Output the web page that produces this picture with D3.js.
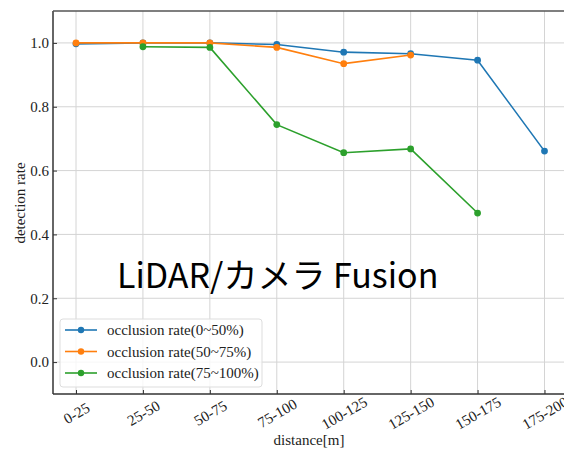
<!DOCTYPE html>
<html><head><meta charset="utf-8">
<script src="https://cdn.jsdelivr.net/npm/d3@7"></script>
<style>body{margin:0;background:#fff}svg{display:block}</style>
</head><body>
<script>
const categories = ["0-25","25-50","50-75","75-100","100-125","125-150","150-175","175-200"];
const seriesNames = ["occlusion rate(0~50%)","occlusion rate(50~75%)","occlusion rate(75~100%)"];
const blueValues = [0.997,1.0,1.0,0.995,0.971,0.966,0.946,0.661];
const orangeValues = [1.0,1.0,1.0,0.986,0.935,0.962,null,null];
const greenValues = [null,0.988,0.986,0.744,0.656,0.668,0.467,null];
const yTicks = [0.0,0.2,0.4,0.6,0.8,1.0];
const colors = ["#1f77b4","#ff7f0e","#2ca02c"];
const overlayText = "LiDAR/カメラ Fusion";

(function(){
const W = 564, H = 451;
const svg = d3.select("body").append("svg").attr("width",W).attr("height",H);
const mLeft = 53, mTop = 11, mBottom = 394, mRight = 611;
const x = d3.scalePoint().domain(categories).range([76, 544.5]);
const y = d3.scaleLinear().domain([-0.1, 1.1]).range([mBottom, mTop]);
const serif = "'Liberation Serif','DejaVu Serif',serif";

// grid
svg.append("g").selectAll("line").data(categories).join("line")
  .attr("x1",d=>x(d)).attr("x2",d=>x(d)).attr("y1",mTop).attr("y2",mBottom)
  .attr("stroke","#d4d4d4").attr("stroke-width",1);
svg.append("g").selectAll("line").data(yTicks).join("line")
  .attr("x1",mLeft).attr("x2",mRight).attr("y1",d=>y(d)).attr("y2",d=>y(d))
  .attr("stroke","#d4d4d4").attr("stroke-width",1);

// axes
const xAxis = d3.axisBottom(x).tickSizeInner(-4).tickSizeOuter(0).tickPadding(0);
const gx = svg.append("g").attr("transform",`translate(0,${mBottom})`).call(xAxis);
gx.select(".domain").remove();
gx.selectAll(".tick line").attr("stroke","#333");
gx.selectAll("text").attr("font-family",serif).attr("font-size",15).attr("fill","#222")
  .attr("text-anchor","middle").attr("y",0).attr("dy","0.35em")
  .attr("transform","translate(0,19) rotate(-30)");

const yAxis = d3.axisLeft(y).tickValues(yTicks).tickFormat(d3.format(".1f")).tickSizeInner(-4).tickSizeOuter(0).tickPadding(4);
const gy = svg.append("g").attr("transform",`translate(${mLeft},0)`).call(yAxis);
gy.select(".domain").remove();
gy.selectAll(".tick line").attr("stroke","#333");
gy.selectAll("text").attr("font-family",serif).attr("font-size",15).attr("fill","#222");

// spines
svg.append("line").attr("x1",mLeft).attr("x2",mLeft).attr("y1",mTop).attr("y2",mBottom).attr("stroke","#333").attr("stroke-width",1.5);
svg.append("line").attr("x1",mLeft).attr("x2",mRight).attr("y1",mBottom).attr("y2",mBottom).attr("stroke","#333").attr("stroke-width",1.5);
svg.append("line").attr("x1",mLeft).attr("x2",mRight).attr("y1",mTop).attr("y2",mTop).attr("stroke","#555").attr("stroke-width",1.5);

// labels
svg.append("text").attr("x",309).attr("y",445).attr("text-anchor","middle")
  .attr("font-family",serif).attr("font-size",15).attr("fill","#222").text("distance[m]");
svg.append("text").attr("transform","translate(25,203) rotate(-90)").attr("text-anchor","middle")
  .attr("font-family",serif).attr("font-size",15).attr("fill","#222").text("detection rate");

// series
const allSeries = [blueValues, orangeValues, greenValues];
const line = d3.line().defined(d=>d.v!=null).x(d=>x(d.c)).y(d=>y(d.v));
allSeries.forEach((vals,i)=>{
  const data = categories.map((c,j)=>({c, v: vals[j]}));
  svg.append("path").datum(data).attr("d",line).attr("fill","none")
    .attr("stroke",colors[i]).attr("stroke-width",1.6);
  svg.append("g").selectAll("circle").data(data.filter(d=>d.v!=null)).join("circle")
    .attr("cx",d=>x(d.c)).attr("cy",d=>y(d.v)).attr("r",3.4).attr("fill",colors[i]);
});

// legend
const lg = svg.append("g");
lg.append("rect").attr("x",60).attr("y",319).attr("width",202).attr("height",68).attr("rx",3)
  .attr("fill","#fff").attr("fill-opacity",0.8).attr("stroke","#ddd");
seriesNames.forEach((n,i)=>{
  const yy = 330 + i*21.5;
  lg.append("line").attr("x1",65).attr("x2",97).attr("y1",yy).attr("y2",yy).attr("stroke",colors[i]).attr("stroke-width",1.6);
  lg.append("circle").attr("cx",81).attr("cy",yy).attr("r",3.2).attr("fill",colors[i]);
  lg.append("text").attr("x",107).attr("y",yy+5).attr("font-family",serif).attr("font-size",15).attr("fill","#222").text(n);
});

// overlay text
svg.append("text").attr("x",117).attr("y",288)
  .attr("font-family","'Noto Sans CJK JP','Noto Sans',sans-serif").attr("font-size",34).attr("fill","#000")
  .text(overlayText);
})();
</script>
</body></html>
